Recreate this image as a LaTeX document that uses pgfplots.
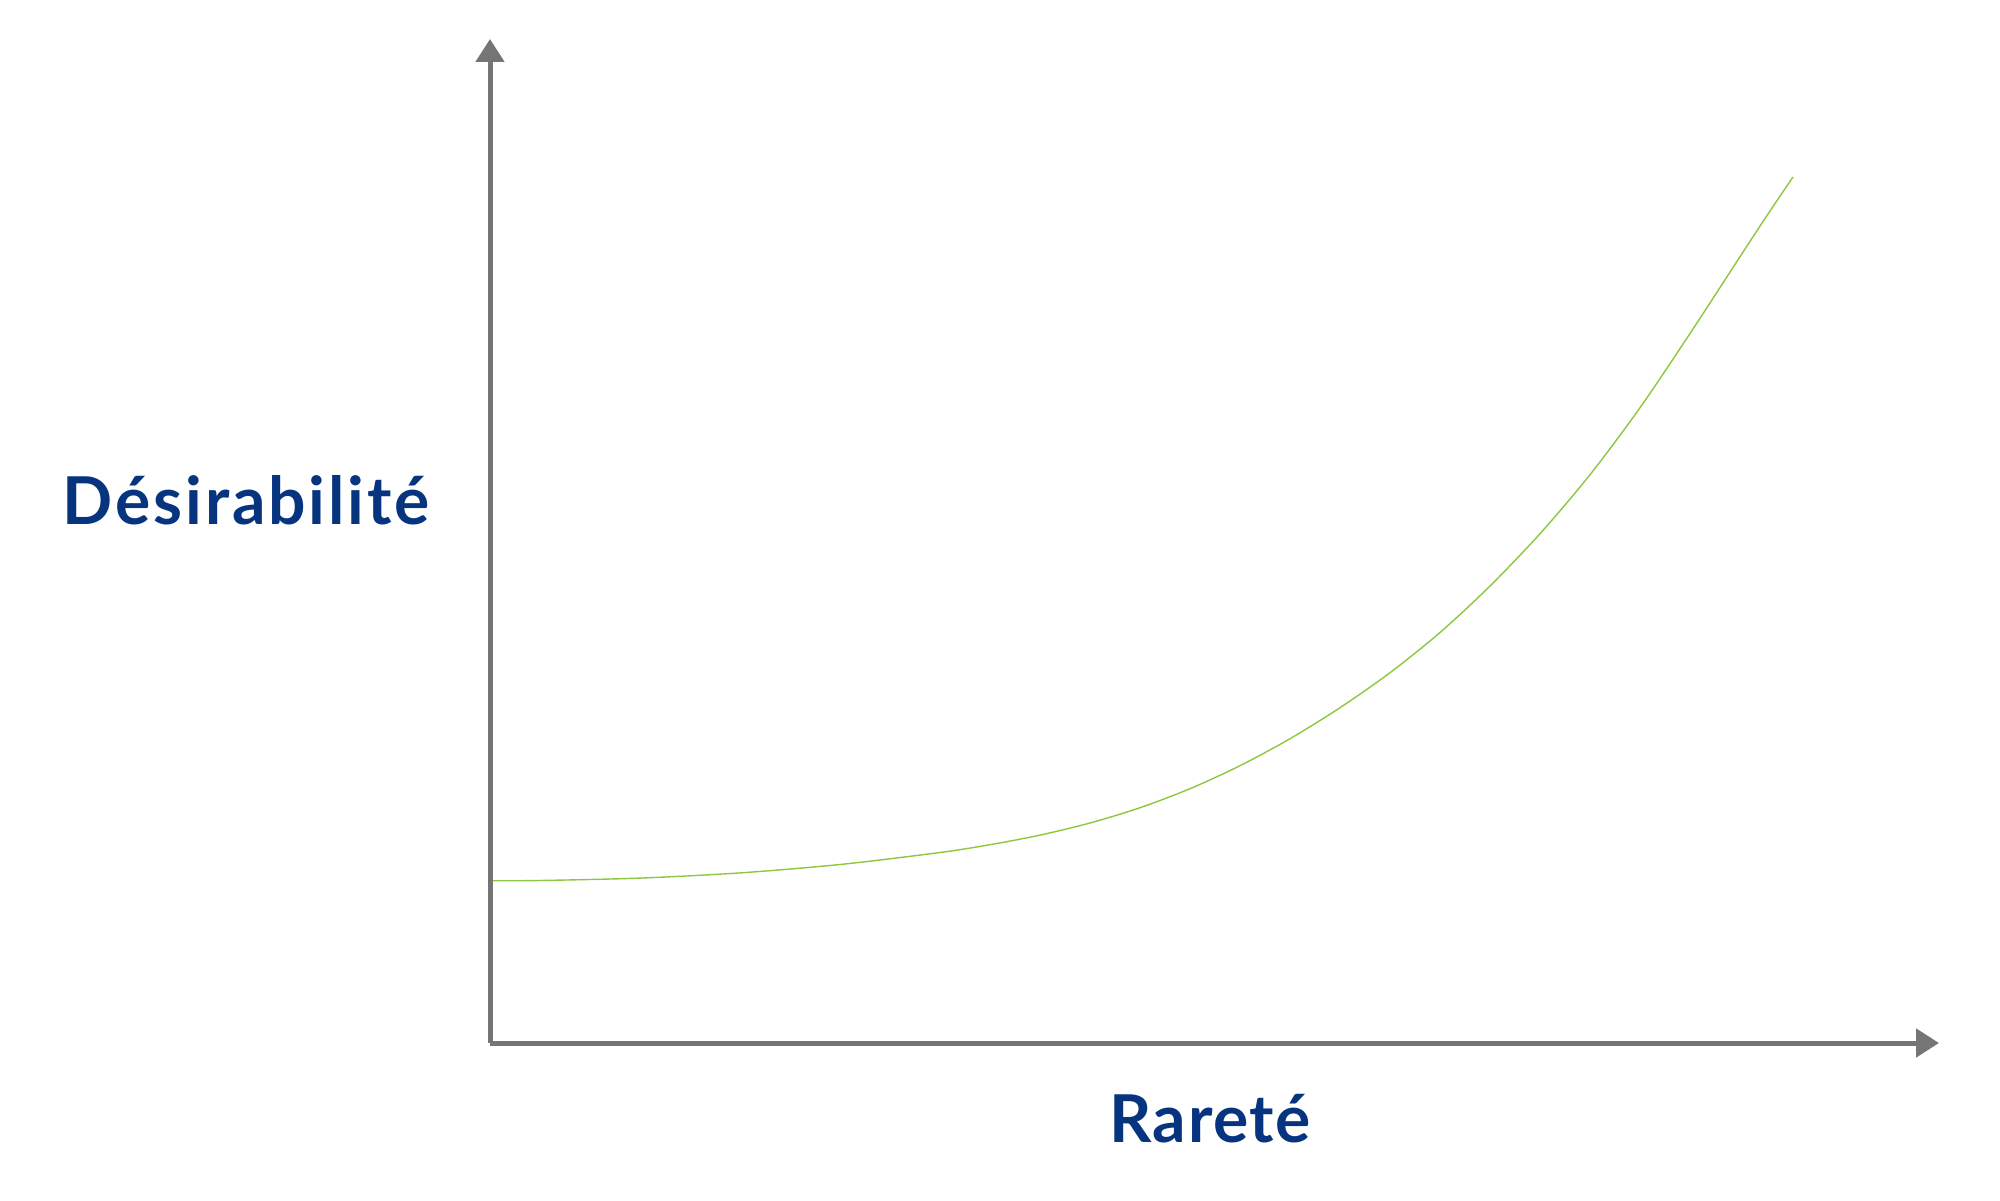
\documentclass[border=0pt]{standalone}
\usepackage{pgfplots}
\pgfplotsset{compat=1.18}
\usetikzlibrary{arrows.meta}
\usepackage{fontspec}
\setmainfont{Lato}
\definecolor{axisgray}{HTML}{757575}
\definecolor{curvegreen}{HTML}{8DC63F}
\definecolor{labelblue}{HTML}{07347F}

% 1 px of the 2000x1200 picture = 0.5pt
\begin{document}
\begin{tikzpicture}
\useasboundingbox (0,0) rectangle (1000pt,600pt);
\begin{axis}[
    at={(245pt,78.5pt)}, anchor=south west,
    scale only axis,
    width=724.5pt, height=502pt,
    xmin=0, xmax=1449,
    ymin=0, ymax=1004,
    enlargelimits=false,
    axis lines=left,
    axis line style={line width=2.5pt, axisgray, -{Triangle[length=11.5pt,width=14pt]}},
    xtick=\empty, ytick=\empty,
    xlabel={\addfontfeature{LetterSpace=2.3}Rareté},
    ylabel={\addfontfeature{LetterSpace=4.4}Désirabilité},
    label style={font=\fontsize{33}{36}\selectfont\bfseries, text=labelblue},
    xlabel style={at={(axis description cs:0.497,0)}, anchor=base, yshift=-49.5pt},
    ylabel style={rotate=-90, at={(axis description cs:0,0.516)}, anchor=base east, xshift=-26.5pt},
  ]
\addplot[smooth, curvegreen, line width=0.7pt] table {
3 162.3
50 162.5
150 164.9
250 170.1
350 178.5
450 190.5
500 198.3
550 207.9
600 220.0
650 235.3
700 254.3
750 277.3
800 304.3
850 335.3
900 370.3
950 410.5
1000 457.0
1050 509.3
1100 568.3
1150 635.3
1200 709.5
1250 786.3
1277 827.5
1303 866
};
\end{axis}
\end{tikzpicture}
\end{document}
